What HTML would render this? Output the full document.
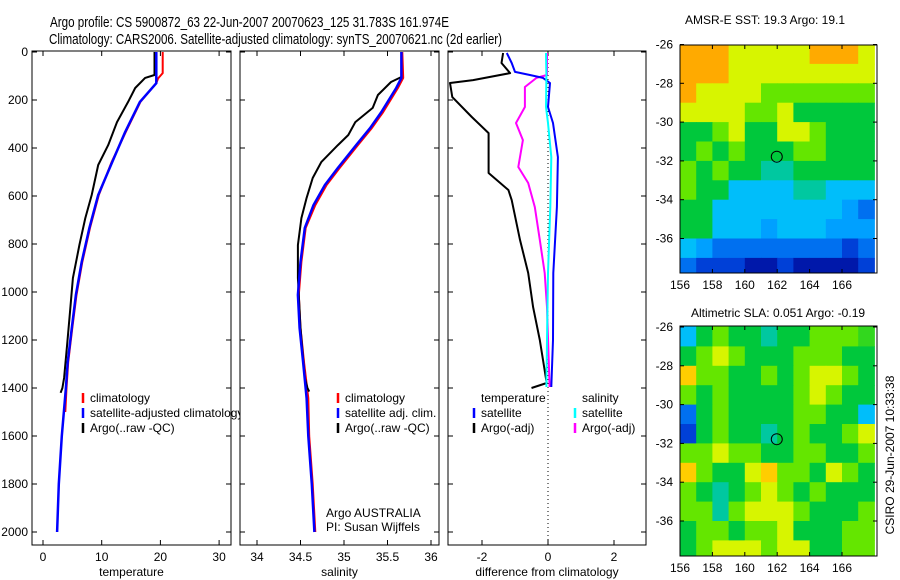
<!DOCTYPE html>
<html><head><meta charset="utf-8"><style>
html,body{margin:0;padding:0;background:#fff;}
svg{display:block;font-family:"Liberation Sans",sans-serif;}
</style></head><body>
<svg id="c" width="900" height="580" viewBox="0 0 900 580" xmlns="http://www.w3.org/2000/svg">
<text x="50" y="27" font-size="14.5" textLength="399" lengthAdjust="spacingAndGlyphs">Argo profile: CS 5900872_63 22-Jun-2007 20070623_125 31.783S 161.974E</text>
<text x="49" y="44" font-size="14.5" textLength="453" lengthAdjust="spacingAndGlyphs">Climatology: CARS2006. Satellite-adjusted climatology: synTS_20070621.nc (2d earlier)</text>
<text x="765" y="24" font-size="12" text-anchor="middle">AMSR-E SST: 19.3 Argo: 19.1</text>
<text x="778" y="317" font-size="12" text-anchor="middle">Altimetric SLA: 0.051 Argo: -0.19</text>
<text transform="translate(894,455) rotate(-90)" font-size="12" text-anchor="middle">CSIRO 29-Jun-2007 10:33:38</text>
</svg>
<script>
// ---- data ----
const tempDepth = [0,130,208,333,458,596,733,875,1012,1150,1292,1400,1600,1800,2000];
const tempSat   = [19.3,19.3,16.5,14.0,11.8,9.4,7.9,6.6,5.6,4.9,4.2,3.9,3.2,2.7,2.4];
const tempClimDepth = [0,88,110,130,208,333,458,596,733,875,1012,1150,1292,1400,1500];
const tempClim  = [20.4,20.4,19.6,19.3,16.6,14.1,11.7,9.5,8.0,6.7,5.7,5.0,4.3,4.0,3.8];
const argoTDepth = [0,96,108,150,208,292,388,471,596,692,804,942,1083,1221,1358,1400,1420];
const argoT      = [19.0,19.0,17.4,15.7,14.5,12.6,11.1,9.4,8.3,7.2,6.2,5.1,4.6,4.1,3.6,3.3,3.0];

const salDepth = [0,108,150,250,317,388,483,554,638,733,875,1012,1150,1292,1442,1600,1800,2000];
const salSat   = [35.66,35.66,35.60,35.43,35.30,35.14,34.93,34.78,34.65,34.55,34.50,34.47,34.49,34.53,34.57,34.59,34.63,34.66];
const salClim  = [35.67,35.68,35.62,35.45,35.32,35.16,34.95,34.80,34.67,34.56,34.51,34.48,34.50,34.54,34.59,34.60,34.64,34.67];
const argoSDepth = [0,104,125,179,233,292,346,388,458,525,608,692,804,942,1150,1358,1400,1415];
const argoS      = [35.66,35.66,35.54,35.39,35.33,35.13,35.05,34.93,34.74,34.64,34.57,34.51,34.47,34.47,34.50,34.55,34.58,34.60];

const dDepthT = [4,46,83,96,108,129,229,296,438,646,921,1200,1396];
const dTsat   = [-1.25,-1.1,-1.0,-0.55,-0.15,0.06,0.0,0.15,0.3,0.27,0.16,0.15,0.1];
const dDepthTA = [4,46,88,117,129,188,271,338,504,575,617,783,921,1063,1200,1379,1400];
const dTargo   = [-1.36,-1.41,-1.15,-2.27,-2.97,-2.9,-2.31,-1.8,-1.8,-1.2,-1.1,-0.85,-0.6,-0.45,-0.25,-0.04,-0.5];
const dDepthS = [4,96,229,296,438,646,921,1200,1396];
const dSsat   = [-0.06,-0.05,-0.06,0.0,0.10,0.07,0.0,-0.03,-0.05];
const dDepthSA = [4,96,108,146,229,296,367,479,546,646,783,921,1063,1396];
const dSargo   = [-0.03,-0.03,-0.35,-0.7,-0.7,-0.97,-0.76,-0.9,-0.6,-0.4,-0.25,-0.1,-0.03,0.05];

const depthTicks = [0,200,400,600,800,1000,1200,1400,1600,1800,2000];
const tempTicks = [0,10,20,30];
const salTicks = [34,34.5,35,35.5,36];
const diffTicks = [-2,0,2];
const lonTicks = [156,158,160,162,164,166];
const latTicks = [-26,-28,-30,-32,-34,-36];

const sstGrid = [
[7,7,7,6,6,6,6,6,7,7,7,6],
[7,7,7,6,6,6,6,6,6,6,6,6],
[7,6,6,6,6,5,5,5,5,5,5,5],
[6,6,6,6,5,5,6,4,4,4,4,4],
[4,4,5,6,4,4,6,6,5,4,4,4],
[4,5,4,5,4,4,4,5,5,4,4,4],
[5,4,5,4,4,3.5,3.5,4,4,4,4,4],
[5,4,4,3,3,3,3,3.5,3.5,3,3,3],
[4,4,3,3,3,3,3,3,3,3,2.5,2],
[4,4,3,3,3,2.5,3,3,3,2.5,2.5,2.5],
[3,2.5,2,2,2,2,2,2,2,2,1.5,2],
[2,1.5,1.5,1.5,1,1,1.5,1,1,1,1,1.5]];
const slaGrid = [
[3,4,5,4,4,3.5,4,4,5,5,5,4.5],
[4,5,6,5,4,4,4,5,5,5,4,4],
[6.5,5,5,4,4,5,4,5,6,6,5,4],
[5,4,5,4,4,4,4,5,6,5,4,4],
[2,4,5,4,4,4,4,5,5,4,4,3],
[1.5,4,5,4,4,3.5,4,5,4,4,5,6],
[5,5,6,5,5,4,4,5,5,4,4,5],
[6.5,5,4,4,6,6.5,5,5,4,6,5,4],
[5,4,3.5,4,5,6,5,4,5,4,4,4],
[5,5,3.5,5,6,6,6,5,4,4,4,5],
[4,5,5,4,5,5,6,4,4,4,5,5],
[4,5,6,6,6,5,6,6,4,4,5,5]];

// ---- drawing ----
const svg = document.getElementById('c');
const NS = 'http://www.w3.org/2000/svg';
function mk(tag, attrs, parent){const e=document.createElementNS(NS,tag);for(const k in attrs)e.setAttribute(k,attrs[k]);(parent||svg).appendChild(e);return e;}
function txt(x,y,s,size,anchor,parent){const t=mk('text',{x:x,y:y,'font-size':size,'text-anchor':anchor||'start'},parent);t.textContent=s;return t;}

const TOP=51, BOT=545;
const yD = d => 52 + d*0.24;

function panel(name, x0, x1, xf, ticks, tickFmt, showYLabels, title){
  const g = mk('g',{});
  
  
  const r = mk('rect',{x:x0,y:TOP,width:x1-x0,height:BOT-TOP,fill:'#fff',stroke:'#000','stroke-width':1},g);
  
  
  ticks.forEach(v=>{const x=xf(v);
    mk('line',{x1:x,x2:x,y1:TOP,y2:TOP+5,stroke:'#000'},g);
    mk('line',{x1:x,x2:x,y1:BOT,y2:BOT-5,stroke:'#000'},g);
    const t=txt(x,561,tickFmt(v),12,'middle',g);
    
    
  });
  depthTicks.forEach(d=>{const y=yD(d);
    mk('line',{x1:x0,x2:x0+5,y1:y,y2:y,stroke:'#000'},g);
    mk('line',{x1:x1,x2:x1-5,y1:y,y2:y,stroke:'#000'},g);
    if(showYLabels){const t=txt(28,y+4,String(d),12,'end',g);
      
      }
  });
  const tt=txt((x0+x1)/2,576,title,12,'middle',g);
  
  
  return g;
}
function line(g, xs, ds, xf, color, w, name){
  const pts = xs.map((v,i)=>xf(v).toFixed(1)+','+yD(ds[i]).toFixed(1)).join(' ');
  const p = mk('polyline',{points:pts,fill:'none',stroke:color,'stroke-width':w,'stroke-linejoin':'round'},g);
  
  
}
function legend(g, x, y, color, label, name){
  mk('line',{x1:x,x2:x,y1:y-9,y2:y+1,stroke:color,'stroke-width':2.5},g);
  const t=txt(x+7,y,label,12,'start',g);
  
  
}

const xT = v => 43 + v*5.87;
const p1 = panel('temperature-panel',32,231,xT,tempTicks,String,true,'temperature');
line(p1, tempClim, tempClimDepth, xT, '#ff0000', 2, 'temperature-climatology-line');
line(p1, argoT, argoTDepth, xT, '#000', 2, 'temperature-argo-line');
line(p1, tempSat, tempDepth, xT, '#0000ff', 2.5, 'temperature-satellite-line');
legend(p1, 83, 402, '#ff0000', 'climatology', 'legend-climatology');
legend(p1, 83, 417, '#0000ff', 'satellite-adjusted climatology', 'legend-satellite-adjusted');
legend(p1, 83, 432, '#000', 'Argo(..raw -QC)', 'legend-argo');

const xS = v => 257 + (v-34)*87;
const p2 = panel('salinity-panel',240,439,xS,salTicks,String,false,'salinity');
line(p2, salClim, salDepth, xS, '#ff0000', 2, 'salinity-climatology-line');
line(p2, argoS, argoSDepth, xS, '#000', 2, 'salinity-argo-line');
line(p2, salSat, salDepth, xS, '#0000ff', 2.5, 'salinity-satellite-line');
legend(p2, 338, 402, '#ff0000', 'climatology', 'legend-sal-climatology');
legend(p2, 338, 417, '#0000ff', 'satellite adj. clim.', 'legend-sal-satellite');
legend(p2, 338, 432, '#000', 'Argo(..raw -QC)', 'legend-sal-argo');
let t1=txt(326,517,'Argo AUSTRALIA',12,'start',p2);


let t2=txt(326,531,'PI: Susan Wijffels',12,'start',p2);



const xDf = v => 548 + v*33;
const p3 = panel('difference-panel',448,646,xDf,diffTicks,String,false,'difference from climatology');
mk('line',{x1:xDf(0),x2:xDf(0),y1:TOP,y2:BOT,stroke:'#000','stroke-dasharray':'1,3'},p3);
line(p3, dTargo, dDepthTA, xDf, '#000', 2, 'diff-temperature-argo-line');
line(p3, dSargo, dDepthSA, xDf, '#ff00ff', 2, 'diff-salinity-argo-line');
line(p3, dTsat, dDepthT, xDf, '#0000ff', 2, 'diff-temperature-satellite-line');
line(p3, dSsat, dDepthS, xDf, '#00ffff', 2, 'diff-salinity-satellite-line');
let lt=txt(481,402,'temperature',12,'start',p3);


let ls=txt(582,402,'salinity',12,'start',p3);


legend(p3, 474, 417, '#0000ff', 'satellite', 'legend-diff-t-satellite');
legend(p3, 474, 432, '#000', 'Argo(-adj)', 'legend-diff-t-argo');
legend(p3, 575, 417, '#00ffff', 'satellite', 'legend-diff-s-satellite');
legend(p3, 575, 432, '#ff00ff', 'Argo(-adj)', 'legend-diff-s-argo');

const stops = [[1,[0,24,170]],[1.5,[0,64,215]],[2,[0,112,240]],[2.5,[0,160,255]],[3,[0,190,250]],[3.5,[0,200,160]],[4,[0,200,60]],[5,[100,230,0]],[6,[215,245,0]],[6.5,[255,205,0]],[7,[255,170,0]]];
function col(v){
  if(v<=stops[0][0])return 'rgb('+stops[0][1]+')';
  for(let i=1;i<stops.length;i++){if(v<=stops[i][0]){const a=stops[i-1],b=stops[i];const f=(v-a[0])/(b[0]-a[0]);
    return 'rgb('+a[1].map((c,k)=>Math.round(c+(b[1][k]-c)*f)).join(',')+')';}}
  return 'rgb('+stops[stops.length-1][1]+')';
}
function map(name, grid, top, bottom, latTopPx){
  const x0=680, x1=877;
  const xL = lon => 680 + (lon-156)*16.2;
  const yL = lat => latTopPx + (-26-lat)*19.4;
  const g = mk('g',{});
  
  
  const clip = mk('clipPath',{id:name+'-clip'},g);
  mk('rect',{x:x0,y:top,width:x1-x0,height:bottom-top},clip);
  const cg = mk('g',{'clip-path':'url(#'+name+'-clip)'},g);
  grid.forEach((row,r)=>row.forEach((v,c)=>{
    const y0 = r===0 ? top : yL(-26-r);
    const y1 = r===grid.length-1 ? bottom : yL(-27-r);
    const cell = mk('rect',{x:xL(156+c),y:y0,width:16.7,height:y1-y0+0.6,fill:col(v)},cg);
    
    
  }));
  const f = mk('rect',{x:x0,y:top,width:x1-x0,height:bottom-top,fill:'none',stroke:'#000'},g);
  
  
  lonTicks.forEach(l=>{const x=xL(l);
    mk('line',{x1:x,x2:x,y1:top,y2:top+4,stroke:'#000'},g);
    mk('line',{x1:x,x2:x,y1:bottom,y2:bottom-4,stroke:'#000'},g);
    const t=txt(x,bottom+16,String(l),12,'middle',g);
    
    
  });
  latTicks.forEach(l=>{const y=yL(l);
    mk('line',{x1:x0,x2:x0+4,y1:y,y2:y,stroke:'#000'},g);
    mk('line',{x1:x1,x2:x1-4,y1:y,y2:y,stroke:'#000'},g);
    const t=txt(673,y+4,String(l),12,'end',g);
    
    
  });
  const c = mk('circle',{cx:xL(161.974),cy:yL(-31.783),r:5.5,fill:'none',stroke:'#000'},g);
  
  
}
map('sst-map', sstGrid, 45, 273, 44.5);
map('sla-map', slaGrid, 326, 556, 327);
</script>
</body></html>
